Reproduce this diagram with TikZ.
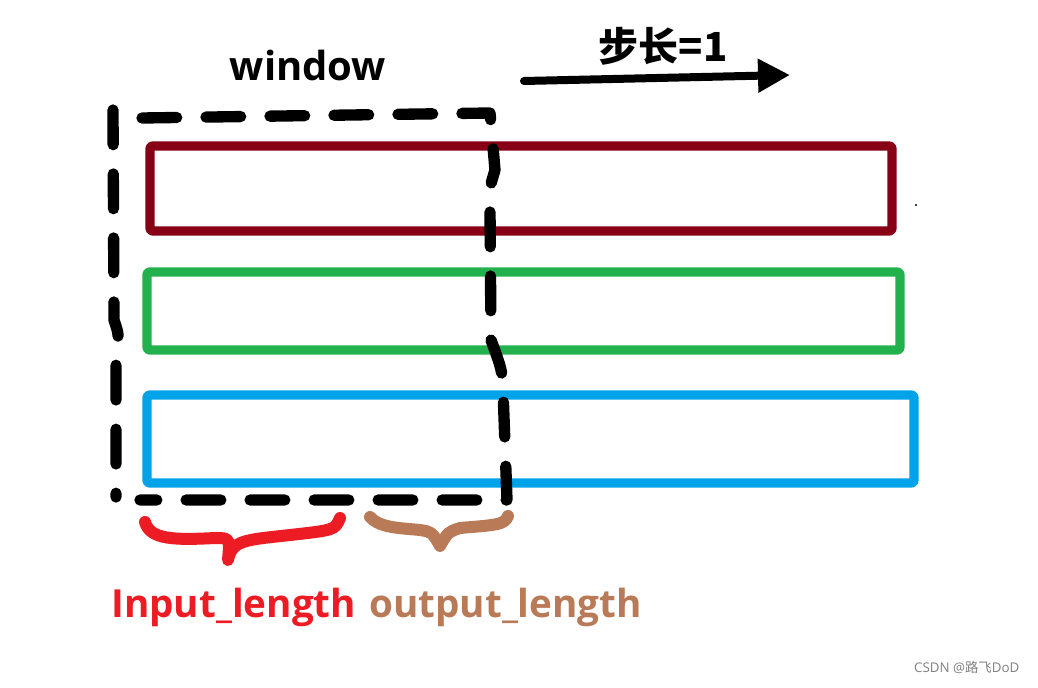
\documentclass[tikz,border=0pt]{standalone}
\usepackage{fontspec}
\setmainfont{Open Sans}
\newfontfamily\cjk{Noto Sans CJK SC}
\usetikzlibrary{arrows.meta}
\definecolor{dred}{HTML}{880015}
\definecolor{mgreen}{HTML}{22B14C}
\definecolor{mblue}{HTML}{00A2E8}
\definecolor{mred}{HTML}{ED1C24}
\definecolor{mbrown}{HTML}{B97A57}
\tikzset{
  seqbox/.style={line width=7pt, line join=round, rounded corners=2pt},
  winline/.style={line width=8.5pt, line cap=round, line join=round, dash pattern=on 26pt off 22pt},
  brace/.style={line width=9pt, line cap=round, line join=round},
  lbl/.style={font=\bfseries, inner sep=0pt},
}
\begin{document}
\begin{tikzpicture}[x=0.75pt,y=-0.75pt]
\useasboundingbox (0,0) rectangle (1038,688);
% sequences
\draw[seqbox, dred] (150,146) rectangle (892,231);
\draw[seqbox, mgreen] (147,272) rectangle (900,350);
\draw[seqbox, mblue] (147,395) rectangle (914,483);
% window
\draw[winline] (113,110) -- (114,320) .. controls (119,335) .. (116,350) -- (116,497);
\draw[winline] (142,118) -- (490,113) -- (495,170) .. controls (489,190) .. (490,210) -- (491,340) .. controls (502,370) .. (503,390) -- (507,500) -- (140,500);
% arrow
\coordinate (a0) at (524,81);
\coordinate (a1) at (790,75);
\draw[line width=6pt, line cap=round, -{Triangle[length=24pt,width=24pt]}] (a0) -- (a1);
\node[lbl, font=\cjk\bfseries\fontsize{30}{34}\selectfont] (step1) at (663,46) {步长=1};
\node[lbl, font=\bfseries\fontsize{30}{34}\selectfont] (win) at (308,66) {window};
% braces
\draw[brace, mred] (145,522) .. controls (150,540) and (175,540) .. (215,538) .. controls (230,538) .. (228,560) .. controls (232,540) and (245,540) .. (290,535) .. controls (335,530) .. (340,518);
\draw[brace, mbrown] (370,517) .. controls (380,528) and (400,528) .. (420,530) .. controls (432,532) .. (440,546) .. controls (448,532) .. (460,528) .. controls (495,525) and (505,525) .. (508,516);
\node[lbl, mred, font=\bfseries\fontsize{29}{32}\selectfont, anchor=west] (inl) at (111,607) {Input\_length};
\node[lbl, mbrown, font=\bfseries\fontsize{29}{32}\selectfont, anchor=west] (outl) at (369,607) {output\_length};
\node[font=\fontsize{10}{12}\selectfont, text=gray, anchor=east] (wm) at (1024,667) {CSDN @{\cjk 路飞}DoD};
\fill (916,205) circle (1.2);
\end{tikzpicture}
\end{document}
